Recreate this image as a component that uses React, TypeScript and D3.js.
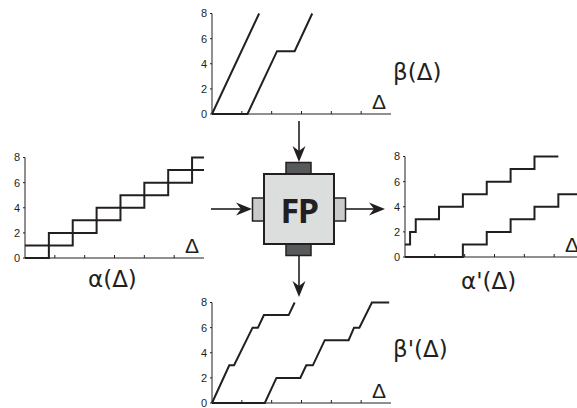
import React from "react";
import * as d3 from "d3";

// Arrival curves α(Δ): periodic staircases
const alphaX = [0, 0.8, 1.6, 2.4, 3.2, 4.0, 4.8, 5.6, 6.0];
const alphaUpper = [1, 2, 3, 4, 5, 6, 7, 8, 8];
const alphaLower = [0, 1, 2, 3, 4, 5, 6, 7, 7];

// Outgoing arrival curves α'(Δ)
const alphaOutUpperX = [0, 0.17, 0.36, 1.14, 1.94, 2.74, 3.54, 4.34, 5.14];
const alphaOutUpper = [1, 2, 3, 4, 5, 6, 7, 8, 8];
const alphaOutLowerX = [0, 1.94, 2.74, 3.54, 4.34, 5.14, 6.0];
const alphaOutLower = [0, 1, 2, 3, 4, 5, 5];

// Service curves β(Δ)
const betaUpperX = [0, 1.58];
const betaUpper = [0, 8];
const betaLowerX = [0, 1.19, 2.18, 2.77, 3.36];
const betaLower = [0, 0, 5, 5, 8];

// Remaining service curves β'(Δ)
const betaOutUpperX = [0, 0.58, 0.74, 1.36, 1.54, 1.74, 2.57, 2.77];
const betaOutUpper = [0, 3, 3, 6, 6, 7, 7, 8];
const betaOutLowerX = [0, 1.77, 2.16, 2.96, 3.16, 3.38, 3.78, 4.58, 4.76, 4.94, 5.36, 5.94];
const betaOutLower = [0, 0, 2, 2, 3, 3, 5, 5, 6, 6, 8, 8];

const yTicks = [0, 2, 4, 6, 8];
const xTicks = [1, 2, 3, 4, 5];

const INK = "#231f20";
const LABEL_FONT = "'Liberation Sans', Arial, sans-serif";
const TITLE_FONT = "'DejaVu Sans', sans-serif";

type Series = { xs: number[]; ys: number[]; step: boolean };

type PanelProps = {
  x0: number;
  y0: number;
  series: Series[];
  title: string;
  titleX: number;
  titleY: number;
};

function Panel({ x0, y0, series, title, titleX, titleY }: PanelProps) {
  const x = d3.scaleLinear().domain([0, 6]).range([x0, x0 + 179]);
  const y = d3.scaleLinear().domain([0, 8]).range([y0, y0 - 100.5]);

  return (
    <g>
      {/* axes */}
      <line x1={x(0)} x2={x(0)} y1={y(0)} y2={y(8)} stroke={INK} strokeWidth={1} />
      <line x1={x(0)} x2={x(6)} y1={y(0)} y2={y(0)} stroke={INK} strokeWidth={1} />
      {xTicks.map((t) => (
        <line key={"xt" + t} x1={x(t)} x2={x(t)} y1={y(0)} y2={y(0) - 3} stroke={INK} strokeWidth={1} />
      ))}
      {yTicks.map((t) => (
        <g key={"yt" + t}>
          <line x1={x(0) - 2} x2={x(0)} y1={y(t)} y2={y(t)} stroke={INK} strokeWidth={1} />
          <text
            x={x(0) - 5}
            y={y(t)}
            dy="0.36em"
            textAnchor="end"
            fontSize={11}
            fontFamily={LABEL_FONT}
            fill={INK}
          >
            {t}
          </text>
        </g>
      ))}
      {/* curves */}
      {series.map((s, i) => {
        const pts = s.xs.map((v, k) => [v, s.ys[k]] as [number, number]);
        const gen = d3
          .line<[number, number]>()
          .x((d) => x(d[0]))
          .y((d) => y(d[1]))
          .curve(s.step ? d3.curveStepAfter : d3.curveLinear);
        return (
          <path
            key={i}
            d={gen(pts) || ""}
            fill="none"
            stroke={INK}
            strokeWidth={2}
            strokeLinejoin="miter"
          />
        );
      })}
      {/* axis name */}
      <text x={x(0) + 160} y={y(0) - 5} fontSize={21} fontFamily={LABEL_FONT} fill={INK}>
        Δ
      </text>
      <text x={titleX} y={titleY} fontSize={23} fontFamily={TITLE_FONT} fill={INK}>
        {title}
      </text>
    </g>
  );
}

function Arrow({ x1, y1, x2, y2 }: { x1: number; y1: number; x2: number; y2: number }) {
  const angle = (Math.atan2(y2 - y1, x2 - x1) * 180) / Math.PI;
  const len = Math.hypot(x2 - x1, y2 - y1);
  return (
    <g transform={`translate(${x1},${y1}) rotate(${angle})`}>
      <line x1={0} y1={0} x2={len - 10} y2={0} stroke={INK} strokeWidth={1.6} />
      <path d={`M${len},0 L${len - 16},-6.5 L${len - 11},0 L${len - 16},6.5 Z`} fill={INK} />
    </g>
  );
}

export default function App() {
  const cx = 299;
  const cy = 209;
  return (
    <svg width={577} height={408} style={{ position: "absolute", left: 0, top: 0 }}>
      <rect width={577} height={408} fill="#ffffff" />

      <Panel
        x0={212}
        y0={114}
        series={[
          { xs: betaUpperX, ys: betaUpper, step: false },
          { xs: betaLowerX, ys: betaLower, step: false },
        ]}
        title="β(Δ)"
        titleX={393}
        titleY={80}
      />
      <Panel
        x0={25}
        y0={258}
        series={[
          { xs: alphaX, ys: alphaUpper, step: true },
          { xs: alphaX, ys: alphaLower, step: true },
        ]}
        title="α(Δ)"
        titleX={88}
        titleY={287}
      />
      <Panel
        x0={405}
        y0={257}
        series={[
          { xs: alphaOutUpperX, ys: alphaOutUpper, step: true },
          { xs: alphaOutLowerX, ys: alphaOutLower, step: true },
        ]}
        title="α'(Δ)"
        titleX={461}
        titleY={289}
      />
      <Panel
        x0={212}
        y0={403}
        series={[
          { xs: betaOutUpperX, ys: betaOutUpper, step: false },
          { xs: betaOutLowerX, ys: betaOutLower, step: false },
        ]}
        title="β'(Δ)"
        titleX={393}
        titleY={357}
      />

      {/* arrows into and out of the processing element */}
      <Arrow x1={cx} y1={121} x2={cx} y2={162} />
      <Arrow x1={211} y1={cy} x2={252} y2={cy} />
      <Arrow x1={345} y1={cy} x2={385} y2={cy} />
      <Arrow x1={cx} y1={256} x2={cx} y2={297} />

      {/* processing element FP */}
      <rect x={cx - 13} y={162.5} width={25} height={11.5} fill="#58595b" stroke={INK} strokeWidth={1.5} />
      <rect x={cx - 13} y={244} width={25} height={11.5} fill="#58595b" stroke={INK} strokeWidth={1.5} />
      <rect x={252.5} y={cy - 11} width={11.5} height={23} fill="#c9cacb" stroke={INK} strokeWidth={1.5} />
      <rect x={334} y={cy - 11} width={11.5} height={23} fill="#c9cacb" stroke={INK} strokeWidth={1.5} />
      <rect x={264} y={174} width={70} height={70} fill="#dcdddd" stroke={INK} strokeWidth={2} />
      <text
        x={cx}
        y={222.5}
        textAnchor="middle"
        fontSize={34}
        fontWeight={700}
        letterSpacing={-1.5}
        fontFamily="'Open Sans', 'Liberation Sans', sans-serif"
        fill={INK}
      >
        FP
      </text>
    </svg>
  );
}
